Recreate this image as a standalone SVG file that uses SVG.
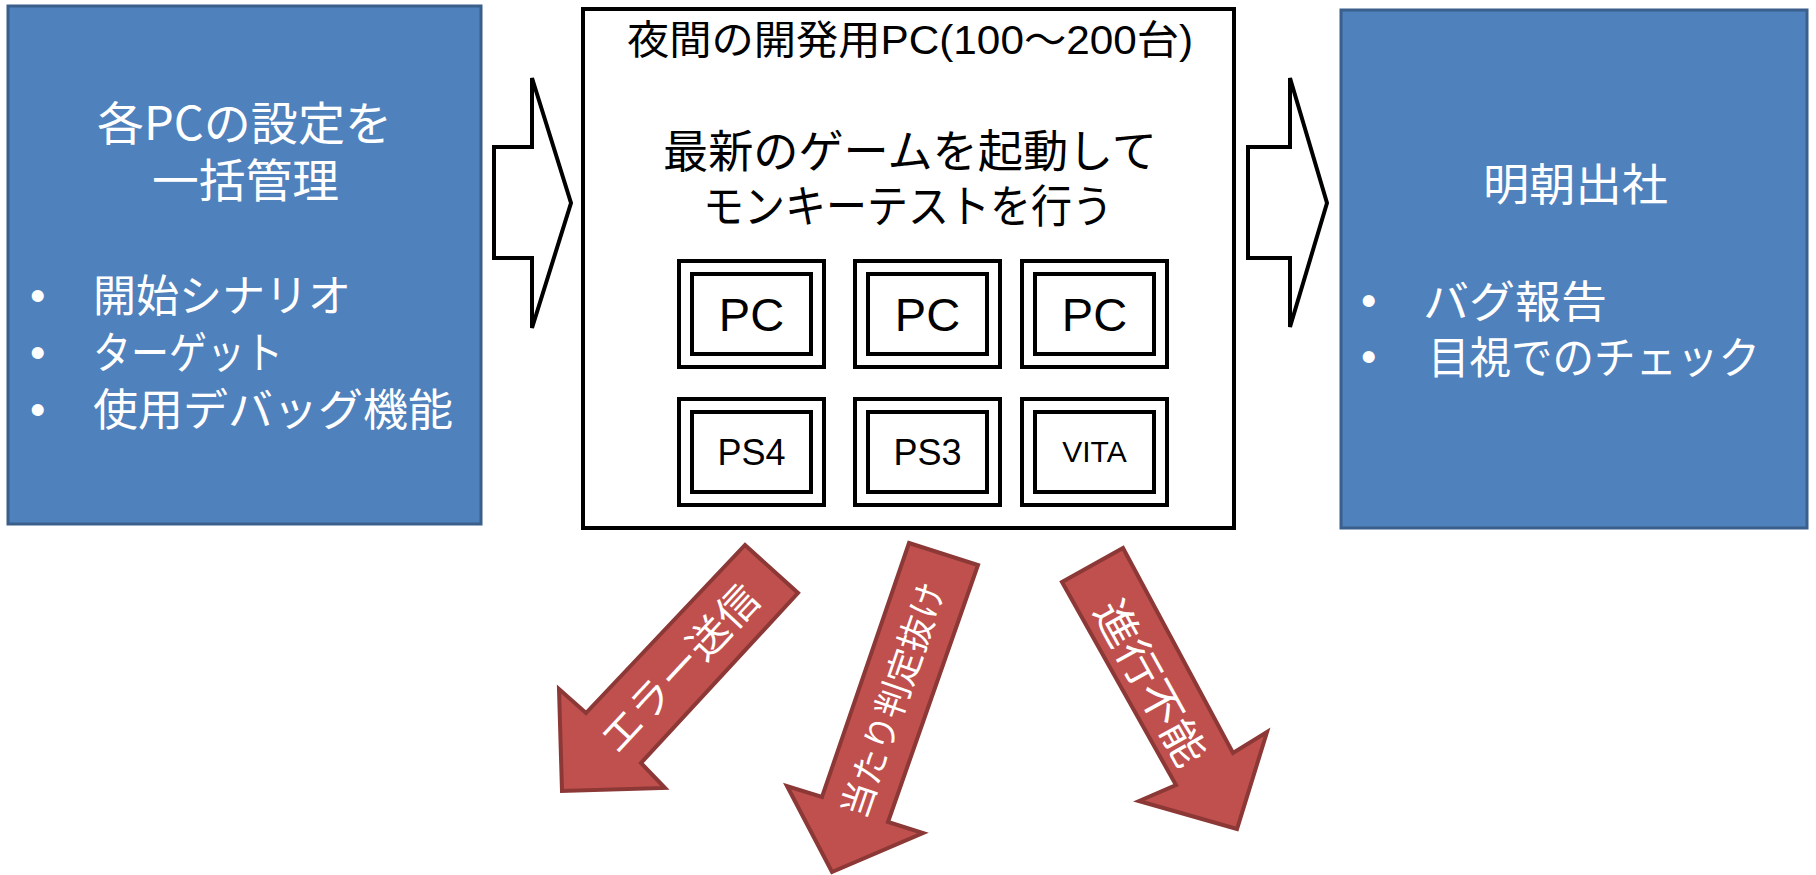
<svg xmlns="http://www.w3.org/2000/svg" width="1816" height="875" viewBox="0 0 1816 875">
<style>
.blue{fill:#4f81bd;stroke:#3a5f8b;stroke-width:3}
.frame{fill:#ffffff;stroke:#000000;stroke-width:4}
.dev{fill:#ffffff;stroke:#000000;stroke-width:4}
.blk{fill:#ffffff;stroke:#000000;stroke-width:4;stroke-linejoin:miter}
.red{fill:#c0504d;stroke:#8c3836;stroke-width:4;stroke-linejoin:miter}
.wt{fill:#ffffff;font-family:"Noto Sans CJK JP","Liberation Sans",sans-serif}
.bt{fill:#000000;font-family:"Liberation Sans","Noto Sans CJK JP",sans-serif}
.bul{fill:#ffffff;font-family:"Liberation Sans",sans-serif;font-size:44px}
</style>
<rect width="1816" height="875" fill="#ffffff"/>

<g id="node-setup">
<rect class="blue" x="8" y="6" width="473" height="518"/>
<text class="wt" x="97" y="140" font-size="46" textLength="295" lengthAdjust="spacingAndGlyphs">各PCの設定を</text>
<text class="wt" x="152" y="197" font-size="46" textLength="187" lengthAdjust="spacingAndGlyphs">一括管理</text>
<text class="bul" x="30" y="311">•</text>
<text class="wt" x="93" y="312" font-size="44" textLength="258" lengthAdjust="spacingAndGlyphs">開始シナリオ</text>
<text class="bul" x="30" y="368">•</text>
<text class="wt" x="93" y="369" font-size="44" textLength="190" lengthAdjust="spacingAndGlyphs">ターゲット</text>
<text class="bul" x="30" y="425">•</text>
<text class="wt" x="93" y="426" font-size="44" textLength="360" lengthAdjust="spacingAndGlyphs">使用デバッグ機能</text>
</g>

<g id="node-night">
<rect class="frame" x="583" y="9" width="651" height="519"/>
<text class="bt" x="627" y="54" font-size="40" textLength="566" lengthAdjust="spacingAndGlyphs">夜間の開発用PC(100〜200台)</text>
<text class="bt" x="663" y="168" font-size="45" textLength="494" lengthAdjust="spacingAndGlyphs">最新のゲームを起動して</text>
<text class="bt" x="703" y="223" font-size="45" textLength="410" lengthAdjust="spacingAndGlyphs">モンキーテストを行う</text>
</g>

<g id="node-pc1">
<rect class="dev" x="679" y="261" width="145" height="106"/>
<rect class="dev" x="692" y="274" width="119" height="80"/>
<text class="bt" x="751.5" y="331" font-size="47" text-anchor="middle">PC</text>
</g>
<g id="node-pc2">
<rect class="dev" x="855" y="261" width="145" height="106"/>
<rect class="dev" x="868" y="274" width="119" height="80"/>
<text class="bt" x="927.5" y="331" font-size="47" text-anchor="middle">PC</text>
</g>
<g id="node-pc3">
<rect class="dev" x="1022" y="261" width="145" height="106"/>
<rect class="dev" x="1035" y="274" width="119" height="80"/>
<text class="bt" x="1094.5" y="331" font-size="47" text-anchor="middle">PC</text>
</g>
<g id="node-ps4">
<rect class="dev" x="679" y="399" width="145" height="106"/>
<rect class="dev" x="692" y="412" width="119" height="80"/>
<text class="bt" x="751.5" y="465" font-size="36" text-anchor="middle">PS4</text>
</g>
<g id="node-ps3">
<rect class="dev" x="855" y="399" width="145" height="106"/>
<rect class="dev" x="868" y="412" width="119" height="80"/>
<text class="bt" x="927.5" y="465" font-size="36" text-anchor="middle">PS3</text>
</g>
<g id="node-vita">
<rect class="dev" x="1022" y="399" width="145" height="106"/>
<rect class="dev" x="1035" y="412" width="119" height="80"/>
<text class="bt" x="1094.5" y="462" font-size="30" text-anchor="middle">VITA</text>
</g>

<g id="node-morning">
<rect class="blue" x="1341" y="10" width="466" height="518"/>
<text class="wt" x="1483" y="201" font-size="44" textLength="185" lengthAdjust="spacingAndGlyphs">明朝出社</text>
<text class="bul" x="1361" y="316">•</text>
<text class="wt" x="1423" y="318" font-size="44" textLength="184" lengthAdjust="spacingAndGlyphs">バグ報告</text>
<text class="bul" x="1361" y="372">•</text>
<text class="wt" x="1428" y="374" font-size="44" textLength="332" lengthAdjust="spacingAndGlyphs">目視でのチェック</text>
</g>

<g id="connectors">
<polygon class="blk" points="494,147 532,147 532,78 571,203 532,328 532,258 494,258"/>
<polygon class="blk" points="1248,147 1290,147 1290,78 1327,203 1290,327 1290,258 1248,258"/>

<polygon class="red" points="745,545 798,593 641,763 665,788 562,791 559,689 586,713"/>
<text class="wt" transform="translate(680,669) rotate(-47)" x="-106" y="14" font-size="40" textLength="212" lengthAdjust="spacingAndGlyphs">エラー送信</text>

<polygon class="red" points="909,543 978,565 888,822 923,833 832,872 787,786 822,797"/>
<text class="wt" transform="translate(893,700) rotate(-71)" x="-123" y="13" font-size="36" textLength="246" lengthAdjust="spacingAndGlyphs">当たり判定抜け</text>

<polygon class="red" points="1062,582 1123,548 1233,753 1267,732 1237,829 1139,801 1176,785"/>
<text class="wt" transform="translate(1150,683) rotate(61)" x="-91" y="15" font-size="42" textLength="182" lengthAdjust="spacingAndGlyphs">進行不能</text>
</g>
</svg>
